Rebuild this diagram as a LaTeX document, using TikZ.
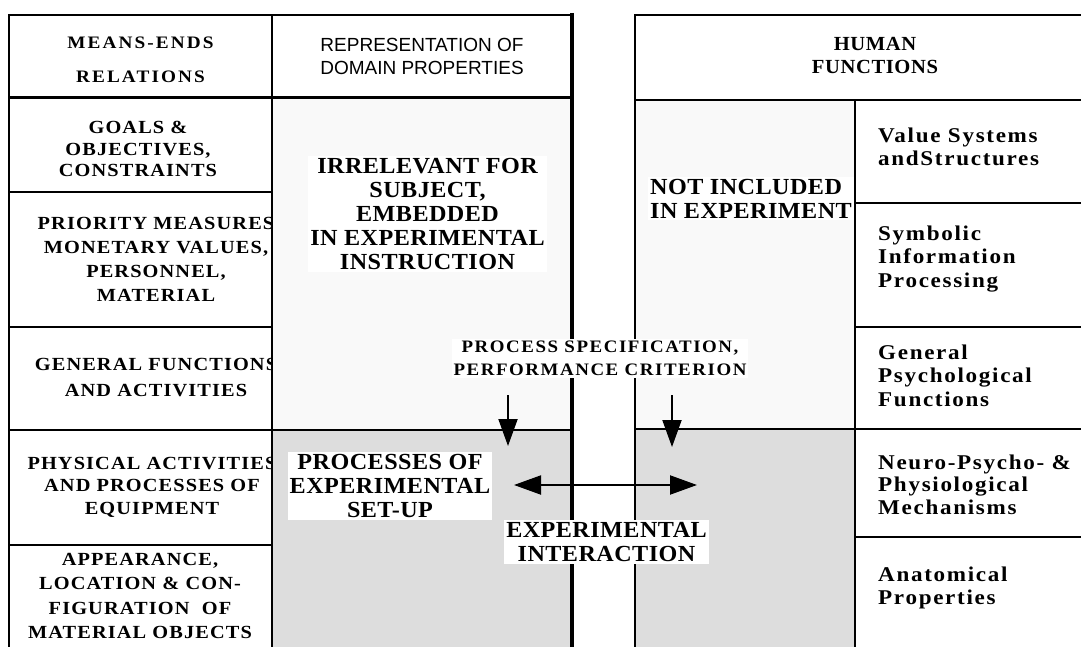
\documentclass[tikz,border=0pt]{standalone}
\usepackage{fontspec}
\setmainfont{Liberation Serif}
\setsansfont{Liberation Sans}
\newfontfamily\headfont[FakeStretch=1.1,LetterSpace=12]{Liberation Serif}
\newfontfamily\humanheadfont[FakeStretch=1.03,LetterSpace=3]{Liberation Serif}
\newfontfamily\rowfont[FakeStretch=1.1,LetterSpace=6]{Liberation Serif}
\newfontfamily\specfont[FakeStretch=1.08,LetterSpace=9]{Liberation Serif}
\newfontfamily\humanfont[FakeStretch=1.1,LetterSpace=8]{Liberation Serif}
\newfontfamily\bigfont[FakeStretch=1.05,LetterSpace=2]{Liberation Serif}
\usetikzlibrary{arrows.meta,positioning}
\definecolor{paleshade}{HTML}{F9F9F9}
\definecolor{darkshade}{HTML}{DDDDDD}
\tikzset{
    head label/.style={font=\headfont\bfseries\fontsize{17.5}{34}\selectfont, align=center, inner sep=0pt, anchor=north},
    human head/.style={font=\humanheadfont\bfseries\fontsize{20}{23}\selectfont, align=center, inner sep=0pt, anchor=north},
    domain head/.style={font=\sffamily\fontsize{19}{23}\selectfont, align=center, inner sep=0pt, anchor=north},
    row label/.style={font=\rowfont\bfseries\fontsize{18.5}{#1}\selectfont, align=center, inner sep=0pt, anchor=north},
    row label/.default=24,
    human label/.style={font=\humanfont\bfseries\fontsize{21}{#1}\selectfont, align=left, inner sep=0pt, anchor=north west},
    human label/.default=23.5,
    big label/.style={font=\bigfont\bfseries\fontsize{23}{24}\selectfont, align=center, fill=white, inner sep=2pt, anchor=north},
    spec label/.style={font=\specfont\bfseries\fontsize{17.5}{23}\selectfont, align=center, fill=white, inner sep=2pt, anchor=north},
    grid line/.style={line width=2pt},
    heavy line/.style={line width=4pt},
    flow/.style={line width=2pt}
}

\begin{document}
\begin{tikzpicture}[x=1pt, y=-1pt, >={Triangle[length=27pt,width=19pt]}]
\useasboundingbox (0,0) rectangle (1081,647);
\clip (0,0) rectangle (1081,647);

% means-ends rows, overflow is hidden by the shading
\node[row label=21.5] (goals) at (138,121) {GOALS \&\\OBJECTIVES,\\CONSTRAINTS};
\node[row label] (priority) at (156,217) {PRIORITY MEASURES\\MONETARY VALUES,\\PERSONNEL,\\MATERIAL};
\node[row label=26] (general) at (156,358) {GENERAL FUNCTIONS\\AND ACTIVITIES};
\node[row label=22.5] (physical) at (152,457) {PHYSICAL ACTIVITIES\\AND PROCESSES OF\\EQUIPMENT};
\node[row label=24.5] (appearance) at (140,553) {APPEARANCE,\\LOCATION \& CON-\\FIGURATION\ \ OF\\MATERIAL OBJECTS};

% shading
\fill[paleshade] (272,98) rectangle (572,430);
\fill[darkshade] (272,430) rectangle (572,650);
\fill[paleshade] (635,100) rectangle (855,429);
\fill[darkshade] (635,429) rectangle (855,650);

% left table
\draw[grid line] (9,650) -- (9,15) -- (572,15);
\draw[heavy line] (572,13) -- (572,650);
\draw[grid line] (272,15) -- (272,650);
\draw[line width=3pt] (9,98) -- (574,98);
\foreach \y in {192,327,545}
    \draw[grid line] (9,\y) -- (272,\y);
\draw[grid line] (9,430) -- (572,430);

% right table
\draw[grid line] (635,650) -- (635,15) -- (1085,15);
\draw[grid line] (635,100) -- (1085,100);
\draw[grid line] (855,100) -- (855,650);
\foreach \y in {203,327,537}
    \draw[grid line] (855,\y) -- (1085,\y);
\draw[grid line] (635,429) -- (1085,429);

% headers
\node[head label] (means) at (140.5,37) {MEANS-ENDS\\RELATIONS};
\node[domain head] (domain) at (422,38.5) {REPRESENTATION OF\\DOMAIN PROPERTIES};
\node[human head] (human) at (875,37) {HUMAN\\FUNCTIONS};

% human functions rows
\node[human label] (values) at (878,127.5) {Value Systems\\andStructures};
\node[human label] (symbolic) at (878,225.5) {Symbolic\\Information\\Processing};
\node[human label] (psych) at (878,344.5) {General\\Psychological\\Functions};
\node[human label=22.5] (neuro) at (878,454.5) {Neuro-Psycho- \&\\Physiological\\Mechanisms};
\node[human label] (anatomy) at (878,566.5) {Anatomical\\Properties};

% experiment labels
\node[big label] (irrelevant) at (427.5,156) {IRRELEVANT FOR\\SUBJECT,\\EMBEDDED\\IN EXPERIMENTAL\\INSTRUCTION};
\node[big label] (setup) at (390,452) {PROCESSES OF\\EXPERIMENTAL\\SET-UP};
\node[big label, align=left, anchor=north west] (notincl) at (648,177) {NOT INCLUDED\\IN EXPERIMENT};
\node[spec label] (spec) at (600,339) {PROCESS SPECIFICATION,\\PERFORMANCE CRITERION};
\node[big label] (interaction) at (606.5,520) {EXPERIMENTAL\\INTERACTION};

% connectors
\coordinate (specin) at (508,395);
\coordinate (specout) at (508,446);
\coordinate (critin) at (672,395);
\coordinate (critout) at (672,447);
\coordinate (setupend) at (514,485);
\coordinate (subjectend) at (697,485);
\draw[flow,->] (specin) -- (specout);
\draw[flow,->] (critin) -- (critout);
\draw[flow,<->] (setupend) -- (subjectend);
\end{tikzpicture}
\end{document}
